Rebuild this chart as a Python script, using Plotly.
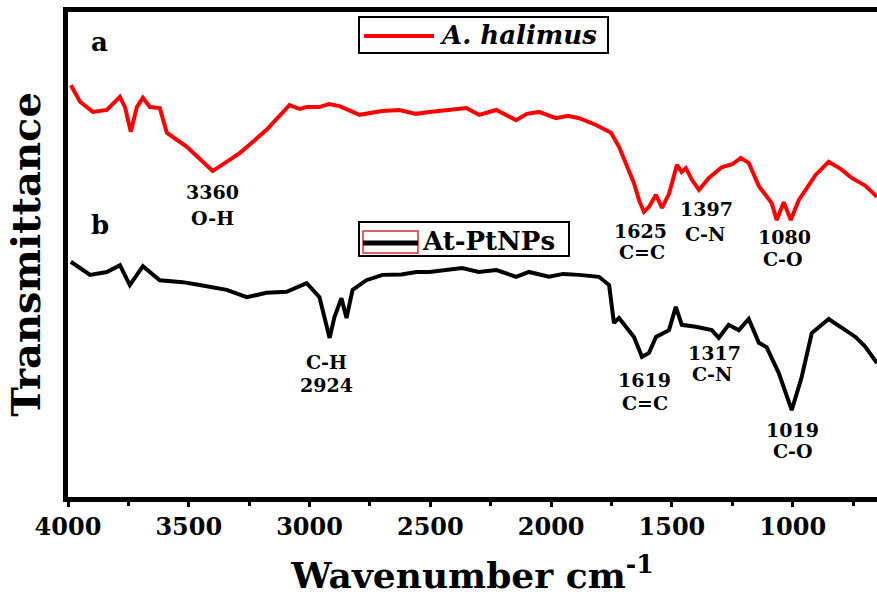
import plotly.graph_objects as go

# ---- data: wavenumber (cm-1) and transmittance (a.u., offset traces) ----
wn_a = [3988, 3950, 3897, 3839, 3785, 3764, 3740, 3715, 3690, 3661, 3620, 3591, 3508, 3401,
        3289, 3178, 3083, 3040, 3012, 2959, 2920, 2876, 2793, 2700, 2628, 2560, 2504, 2422,
        2351, 2298, 2227, 2145, 2100, 2050, 1980, 1930, 1884, 1814, 1790, 1752, 1719, 1686,
        1657, 1636, 1616, 1595, 1566, 1541, 1512, 1479, 1460, 1442, 1417, 1388, 1347, 1294,
        1250, 1215, 1182, 1140, 1087, 1066, 1037, 1008, 975, 905, 851, 800, 756, 700, 651]
t_a = [84.9, 81.5, 79.4, 79.8, 82.5, 80.4, 75.3, 80.4, 82.3, 80.4, 80.2, 75.1, 72.2, 67.2,
       70.9, 75.7, 80.8, 80.0, 80.4, 80.4, 81.0, 80.6, 78.8, 79.6, 79.8, 79.0, 79.4, 79.8,
       80.2, 78.8, 79.8, 77.7, 79.0, 79.4, 78.1, 78.6, 78.1, 76.7, 76.1, 75.1, 72.2, 68.0,
       64.7, 61.2, 58.8, 59.8, 62.3, 59.6, 62.5, 68.5, 67.0, 67.8, 65.4, 63.3, 65.8, 68.0,
       68.6, 69.9, 68.9, 64.1, 60.6, 57.1, 60.8, 57.1, 61.2, 66.4, 69.1, 67.6, 65.8, 64.2, 61.9]

wn_b = [3988, 3909, 3839, 3785, 3744, 3690, 3620, 3525, 3455, 3343, 3260, 3178, 3095,
        3012, 2959, 2917, 2897, 2868, 2847, 2822, 2765, 2698, 2620, 2558, 2504, 2422, 2368,
        2300, 2227, 2145, 2092, 2009, 1950, 1884, 1802, 1760, 1740, 1719, 1690, 1657, 1624, 1595,
        1566, 1512, 1484, 1459, 1401, 1335, 1306, 1265, 1223, 1182, 1140, 1108, 1058,
        1004, 963, 921, 851, 800, 740, 700, 651]
t_b = [48.5, 45.8, 46.4, 47.8, 43.7, 47.6, 44.7, 44.3, 43.7, 42.7, 41.2, 42.1, 42.3,
       44.1, 41.2, 32.8, 37.1, 41.0, 36.9, 42.7, 44.7, 45.8, 45.9, 46.4, 46.4, 46.8, 47.2,
       46.4, 46.8, 45.4, 46.4, 45.4, 46.0, 45.8, 45.4, 43.7, 35.9, 36.9, 35.1, 33.0, 28.9, 29.7,
       33.0, 34.4, 39.2, 35.5, 35.1, 34.4, 32.8, 35.5, 34.4, 36.7, 31.8, 30.9, 25.6,
       17.9, 24.7, 33.8, 36.7, 35.0, 33.0, 31.0, 27.6]

name_a = "A. halimus"
name_b = "At-PtNPs"

x_ticks = [4000, 3500, 3000, 2500, 2000, 1500, 1000]

# peak labels
lab_text = ["3360", "O-H", "1625", "C=C", "1397", "C-N", "1080", "C-O",
            "C-H", "2924", "1619", "C=C", "1317", "C-N", "1019", "C-O"]
lab_x = [3400, 3400, 1632, 1624, 1355, 1363, 1032, 1041,
         2928, 2928, 1612, 1612, 1322, 1334, 999, 999]
lab_y = [62.9, 57.5, 54.8, 50.5, 59.4, 54.2, 53.6, 49.1,
         27.8, 23.1, 24.1, 19.4, 29.7, 25.4, 13.8, 9.5]

panel_text = ["a", "b"]
panel_x = [3868, 3868]
panel_y = [93.8, 56.1]

FONT = "DejaVu Serif"

# plot area geometry (px) used to place the hand-drawn legend boxes
L, T, W, H = 68, 12, 809, 485
def px(x):
    return (x - L) / W
def py(y):
    return (T + H - y) / H

fig = go.Figure()
fig.add_trace(go.Scatter(x=wn_a, y=t_a, mode="lines", name=name_a,
                         line=dict(color="#ff0000", width=4), showlegend=False))
fig.add_trace(go.Scatter(x=wn_b, y=t_b, mode="lines", name=name_b,
                         line=dict(color="#000000", width=4), showlegend=False))

annotations = []
for t, x, y in zip(lab_text, lab_x, lab_y):
    annotations.append(dict(x=x, y=y, text=t, showarrow=False, xref="x", yref="y",
                            font=dict(family=FONT, size=19, color="black", weight="bold")))
for t, x, y in zip(panel_text, panel_x, panel_y):
    annotations.append(dict(x=x, y=y, text=t, showarrow=False, xref="x", yref="y",
                            font=dict(family=FONT, size=26, color="black", weight="bold")))

# legend texts
annotations.append(dict(x=px(437), y=py(35), xref="paper", yref="paper",
                        xanchor="left", yanchor="middle", showarrow=False,
                        text="<i>" + name_a + "</i>",
                        font=dict(family=FONT, size=26, color="black", weight="bold")))
annotations.append(dict(x=px(420), y=py(241), xref="paper", yref="paper",
                        xanchor="left", yanchor="middle", showarrow=False,
                        text=name_b,
                        font=dict(family=FONT, size=26, color="black", weight="bold")))

shapes = [
    # legend box a
    dict(type="rect", xref="paper", yref="paper", x0=px(359), x1=px(608), y0=py(53), y1=py(17),
         line=dict(color="black", width=2), fillcolor="white", layer="above"),
    dict(type="line", xref="paper", yref="paper", x0=px(364), x1=px(434), y0=py(36), y1=py(36),
         line=dict(color="#ff0000", width=4)),
    # legend box b
    dict(type="rect", xref="paper", yref="paper", x0=px(359), x1=px(569), y0=py(256), y1=py(222),
         line=dict(color="black", width=2), fillcolor="white", layer="above"),
    dict(type="rect", xref="paper", yref="paper", x0=px(363), x1=px(418), y0=py(253), y1=py(231),
         line=dict(color="#e03030", width=1.5), layer="above"),
    dict(type="line", xref="paper", yref="paper", x0=px(363), x1=px(418), y0=py(243), y1=py(243),
         line=dict(color="black", width=5), layer="above"),
]

fig.update_layout(
    width=877, height=596,
    margin=dict(l=68, r=0, t=12, b=99),
    paper_bgcolor="white", plot_bgcolor="white",
    showlegend=False,
    annotations=annotations,
    shapes=shapes,
    xaxis=dict(range=[4000, 651], tickvals=x_ticks, ticktext=[str(v) for v in x_ticks],
               automargin=False,
               showline=True, linecolor="black", linewidth=5, mirror=True,
               ticks="outside", ticklen=5, tickwidth=3, tickcolor="black",
               minor=dict(ticks="outside", dtick=250, ticklen=4, tickwidth=3, tickcolor="black"),
               showgrid=False, zeroline=False, ticklabelstandoff=-1,
               tickfont=dict(family=FONT, size=24, color="black", weight="bold"),
               title=dict(text="<b>Wavenumber cm<sup>-1</sup></b>", standoff=28,
                          font=dict(family=FONT, size=36, color="black"))),
    yaxis=dict(range=[0, 100], showline=True, linecolor="black", linewidth=5,
               automargin=False,
               ticks="", showticklabels=False, showgrid=False, zeroline=False,
               title=dict(text="<b>Transmittance</b>", standoff=12,
                          font=dict(family=FONT, size=40, color="black"))),
)

fig.write_html("out.html", config={"displayModeBar": False},
               post_script="document.body.style.margin='0px';")
